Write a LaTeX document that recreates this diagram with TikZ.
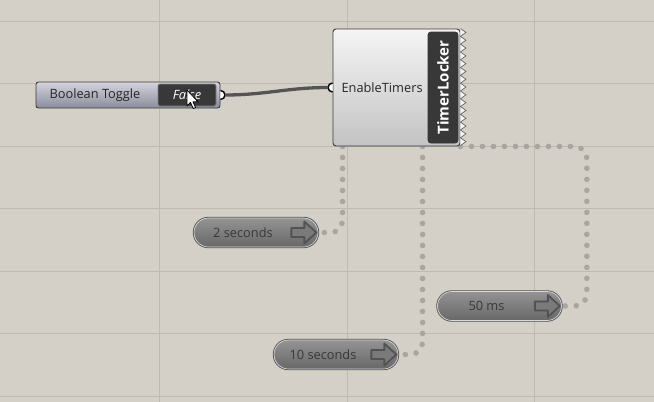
\documentclass[tikz,border=0pt]{standalone}
\usepackage{fontspec}
\setmainfont{Open Sans}
\usetikzlibrary{backgrounds}
\definecolor{canvas}{HTML}{D4D0C8}
\definecolor{gridline}{HTML}{BEBAB2}
\definecolor{wiregray}{HTML}{545454}
\definecolor{dotgray}{HTML}{A8A6A1}
\definecolor{edgegray}{HTML}{3A3A3A}
\definecolor{togtop}{HTML}{D2D3DC}
\definecolor{togmid}{HTML}{B4B5C2}
\definecolor{togbot}{HTML}{8C8D9D}
\definecolor{comptop}{HTML}{F5F5F5}
\definecolor{compbot}{HTML}{C3C3C3}
\definecolor{captop}{HTML}{939393}
\definecolor{capbot}{HTML}{686868}
\definecolor{capedge}{HTML}{D8D8D8}
\definecolor{capdark}{HTML}{505050}
\definecolor{captext}{HTML}{383838}
\definecolor{darkbox}{HTML}{383838}

\begin{document}
\begin{tikzpicture}[x=1pt,y=-1pt,
    gui/.style={font=\fontsize{12.8}{14}\selectfont},
    toggle/.style={minimum width=184,minimum height=26,rounded corners=2.5,
      top color=togtop,middle color=togmid,bottom color=togbot,draw=edgegray,line width=.9},
    falsebox/.style={gui,minimum width=58,minimum height=22,rounded corners=2,
      fill=darkbox,draw=gray,line width=.7,text=white},
    comp/.style={minimum width=127,minimum height=117,rounded corners=3,
      top color=comptop,bottom color=compbot,draw=edgegray,line width=.9},
    locker/.style={rotate=90,minimum width=111,minimum height=30,rounded corners=3,
      fill=darkbox,draw=black!80,line width=.8,text=white,
      font=\fontsize{15}{17}\selectfont\bfseries},
    capsule/.style={gui,minimum width=124,minimum height=29,rounded corners=14.5,
      top color=captop,bottom color=capbot,preaction={draw=capdark,line width=2.4},
      draw=capedge,line width=.7,text=captext},
    arrowicon/.style={fill=black!52,draw=black!68,line width=1.8pt,line join=round},
    port/.style={fill=white,draw=black,line width=1.4},
    wire/.style={draw=wiregray,line width=3.3pt},
    dotwire/.style={draw=dotgray,line width=5.6pt,line cap=round,
      dash pattern=on 0pt off 11pt,rounded corners=12}]
\useasboundingbox (0,0) rectangle (654,402);

% toggle on the left
\node [toggle] (toggle) at (128,95) {};
\node [gui,anchor=west,text=black!85] (togtext) at (46,95) {Boolean Toggle};
\node [falsebox] (falsebox) at (187,95) {\itshape False};
\draw [fill=white,draw=black,line width=.8,line join=round]
  (187,90) -- (187,106) -- (190.5,102.5) -- (193.2,108.5) -- (195.6,107.5)
  -- (193,101.8) -- (198,101.8) -- cycle;%cursor

% the component
\node [comp] (comp) at (396.5,87.5) {};
\node [gui,anchor=west,text=black!85] (intext) at (338,87.5) {EnableTimers};
\node [locker] (locker) at (443,87.5) {TimerLocker};
\draw [draw=black!60,fill=comptop,line width=.7,line join=miter]
  (comp.north east) \foreach \k in {1,...,15} { -- ++(5.5,3.9) -- ++(-5.5,3.9) };

% ports and wire
\draw [port] (toggle.east) ++(0,-4.5) arc (-90:90:4.5);
\draw [port] (comp.west) ++(0,-4.5) arc (-90:-270:4.5);
\draw [wire] ([xshift=4.5pt]toggle.east) to[out=0,in=180] ([xshift=-4.5pt]comp.west);

% timer capsules
\node [capsule] (twosec) at (256,232.5) {2 seconds\hspace*{26pt}};
\node [capsule] (tensec) at (336,354.5) {10 seconds\hspace*{26pt}};
\node [capsule] (fiftyms) at (499.5,306) {50 ms\hspace*{26pt}};
\foreach \c in {twosec,tensec,fiftyms}
  \draw [arrowicon,shift={(\c.east)}] (-27,-4.5) -- (-14,-4.5) -- (-14,-11) -- (-2,0)
    -- (-14,11) -- (-14,4.5) -- (-27,4.5) -- cycle;

\begin{scope}[on background layer]
  \fill [canvas] (0,0) rectangle (654,402);
  \foreach \gx in {159.5,347.3,534.5} \draw [gridline] (\gx,0) -- (\gx,402);
  \foreach \gy in {21.5,83.5,146,208.5,271.5,333.5,396} \draw [gridline] (0,\gy) -- (654,\gy);
  % dotted links
  \coordinate (bend) at ([xshift=25pt]fiftyms.east);
  \draw [dotwire] ([xshift=10pt]comp.south west) |- (twosec.east);
  \draw [dotwire] ([xshift=90pt]comp.south west) |- (tensec.east);
  \draw [dotwire] (comp.south east) -| (bend) -- (fiftyms.east);
\end{scope}
\end{tikzpicture}
\end{document}
